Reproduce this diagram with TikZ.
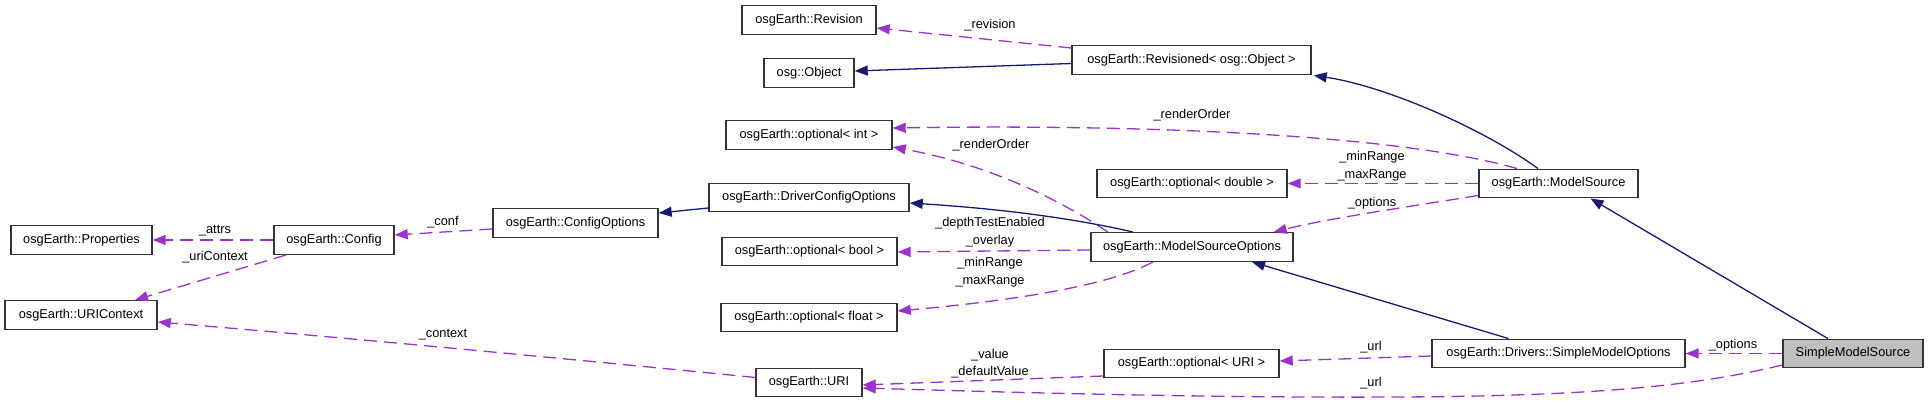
\documentclass[tikz,border=0pt]{standalone}
\usepackage{fontspec}
\setmainfont{Liberation Sans}
\usetikzlibrary{arrows.meta,calc}
\definecolor{edgepurple}{HTML}{9A32CD}
\definecolor{edgenavy}{HTML}{191970}
\definecolor{boxgray}{HTML}{BFBFBF}
\tikzset{
 cls/.style={draw=black!80, line width=1.4pt, rectangle, inner sep=0pt, minimum height=28.5pt, font=\fontsize{12.8}{15}\selectfont, text=black},
 mainc/.style={cls, fill=boxgray},
 usage/.style={draw=edgepurple, line width=1.3pt, dash pattern=on 13pt off 7pt, -{Triangle[length=13pt,width=10pt]}},
 inherit/.style={draw=edgenavy, line width=1.3pt, -{Triangle[length=13pt,width=10pt]}},
 lbl/.style={font=\fontsize{12.8}{17.5}\selectfont, inner sep=0pt, align=center, text=black}
}
\begin{document}
\begin{tikzpicture}[x=1pt,y=-1pt]
\useasboundingbox (0,0) rectangle (1928,403);
% nodes
\node[cls, minimum width=141pt] (prop) at (81.5,240) {osgEarth::Properties};
\node[cls, minimum width=120pt] (config) at (334,240) {osgEarth::Config};
\node[cls, minimum width=152pt] (urictx) at (81,315) {osgEarth::URIContext};
\node[cls, minimum width=165pt] (cfgopt) at (575.5,223) {osgEarth::ConfigOptions};
\node[cls, minimum width=200pt] (dco) at (809,197.5) {osgEarth::DriverConfigOptions};
\node[cls, minimum width=175pt] (optbool) at (809.5,251.5) {osgEarth::optional< bool >};
\node[cls, minimum width=176pt] (optfloat) at (809,317.5) {osgEarth::optional< float >};
\node[cls, minimum width=106pt] (uri) at (809,382.5) {osgEarth::URI};
\node[cls, minimum width=134pt] (revision) at (809,20) {osgEarth::Revision};
\node[cls, minimum width=90pt] (object) at (809,73) {osg::Object};
\node[cls, minimum width=166pt] (optint) at (809,135) {osgEarth::optional< int >};
\node[cls, minimum width=239pt] (revisioned) at (1191.5,60) {osgEarth::Revisioned< osg::Object >};
\node[cls, minimum width=190pt] (optdouble) at (1192,183.5) {osgEarth::optional< double >};
\node[cls, minimum width=159pt] (modelsrc) at (1558.5,183.5) {osgEarth::ModelSource};
\node[cls, minimum width=202pt] (mso) at (1192,247) {osgEarth::ModelSourceOptions};
\node[cls, minimum width=175pt] (opturi) at (1191.5,363.5) {osgEarth::optional< URI >};
\node[cls, minimum width=253pt] (smo) at (1558.5,353.5) {osgEarth::Drivers::SimpleModelOptions};
\node[mainc, minimum width=140pt] (sms) at (1853,353.5) {SimpleModelSource};
% edges
\draw[usage] ($(revisioned.west)+(0,-12)$) -- ($(revision.east)+(0,8)$);
\node[lbl] (lrevision) at (990,25) {\_revision};
\draw[inherit] ($(revisioned.west)+(0,3.5)$) -- ($(object.east)+(0,-2)$);
\draw[inherit] ($(modelsrc.north)+(-20.5,0)$) .. controls (1482,128) and (1385,86) .. ($(revisioned.south east)+(2,0.5)$);
\draw[usage] ($(modelsrc.north)+(-41.5,0)$) .. controls (1400,135) and (1150,124) .. ($(optint.east)+(0,-7)$);
\node[lbl] (lro1) at (1192,115) {\_renderOrder};
\draw[usage] ($(mso.north)+(-84,0)$) .. controls (1060,200) and (990,165) .. ($(optint.east)+(0,12)$);
\node[lbl] (lro2) at (991,145) {\_renderOrder};
\draw[usage] (modelsrc.west) -- (optdouble.east);
\node[lbl] (lrange1) at (1372,166) {\_minRange\\\_maxRange};
\draw[usage] ($(modelsrc.south west)+(0,-3)$) .. controls (1420,205) and (1330,218) .. ($(mso.north east)+(-20,0)$);
\node[lbl] (lopt1) at (1372,203) {\_options};
\draw[inherit] ($(mso.north)+(-59,0)$) .. controls (1090,222) and (1020,210) .. ($(dco.east)+(0,5.5)$);
\draw[inherit] ($(dco.west)+(0,10.5)$) -- ($(cfgopt.east)+(0,-10)$);
\draw[usage] ($(cfgopt.west)+(0,6)$) -- ($(config.east)+(0,-5)$);
\node[lbl] (lconf) at (443,222) {\_conf};
\draw[usage] (config.west) -- (prop.east);
\node[lbl] (lattrs) at (215,231) {\_attrs};
\draw[usage] ($(config.south west)+(13,0)$) -- ($(urictx.north)+(54,0)$);
\node[lbl] (luric) at (215,257) {\_uriContext};
\draw[usage] ($(uri.west)+(0,-5)$) .. controls (600,362) and (350,338) .. ($(urictx.east)+(0,7)$);
\node[lbl] (lctx) at (443,335) {\_context};
\draw[usage] ($(mso.west)+(0,3)$) -- ($(optbool.east)+(0,0.5)$);
\node[lbl] (ldepth) at (990,232) {\_depthTestEnabled\\\_overlay};
\draw[usage] ($(mso.south)+(-39,0)$) .. controls (1110,285) and (1020,300) .. ($(optfloat.east)+(0,-6.5)$);
\node[lbl] (lrange2) at (990,272) {\_minRange\\\_maxRange};
\draw[inherit] ($(smo.north)+(-50,0)$) -- ($(mso.south)+(60,0)$);
\draw[usage] ($(smo.west)+(0,2.5)$) -- ($(opturi.east)+(0,-2.5)$);
\node[lbl] (lurl1) at (1371,347) {\_url};
\draw[usage] ($(opturi.west)+(0,12.5)$) -- ($(uri.east)+(0,2.5)$);
\node[lbl] (lvalue) at (990,363.5) {\_value\\\_defaultValue};
\draw[usage] ($(sms.west)+(0,11.5)$) .. controls (1700,385) and (1600,396) .. (1400,397) .. controls (1200,398) and (1000,392) .. ($(uri.east)+(0,5.5)$);
\node[lbl] (lurl2) at (1371,383) {\_url};
\draw[usage] (sms.west) -- (smo.east);
\node[lbl] (lopt2) at (1733,345) {\_options};
\draw[inherit] ($(sms.north)+(-25,0)$) -- ($(modelsrc.south)+(32,0)$);
\end{tikzpicture}
\end{document}
